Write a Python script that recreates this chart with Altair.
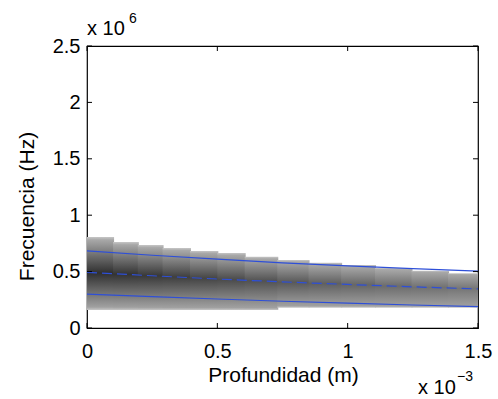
import altair as alt
import pandas as pd
import numpy as np

# ---- data (x in units of 1e-3 m, y in units of 1e6 Hz) ----
col_x0 = [0.0, 0.10, 0.195, 0.29, 0.395, 0.50, 0.605, 0.73, 0.85, 0.975, 1.105, 1.245, 1.385]
col_x1 = [0.10, 0.195, 0.29, 0.395, 0.50, 0.605, 0.73, 0.85, 0.975, 1.105, 1.245, 1.385, 1.5]
col_upper = [0.807, 0.762, 0.736, 0.709, 0.683, 0.665, 0.632, 0.603, 0.579, 0.559, 0.532, 0.508, 0.485]
col_lower = [0.16, 0.16, 0.16, 0.16, 0.16, 0.16, 0.16, 0.18, 0.18, 0.18, 0.18, 0.18, 0.18]
col_core = ["#303030", "#343434", "#393939", "#3f3f3f", "#454545", "#4b4b4b", "#525252",
            "#595959", "#606060", "#666666", "#6c6c6c", "#717171", "#767676"]

line_x = [0, 0.25, 0.5, 0.75, 1.0, 1.25, 1.5]
upper_line = [0.683, 0.645, 0.610, 0.578, 0.551, 0.527, 0.505]
mid_line = [0.494, 0.463, 0.434, 0.409, 0.386, 0.365, 0.346]
lower_line = [0.301, 0.278, 0.257, 0.237, 0.220, 0.204, 0.189]

x_ticks = [0, 0.5, 1, 1.5]
y_ticks = [0, 0.5, 1, 1.5, 2, 2.5]

W, H = 391, 282
FONT = "Liberation Sans"
xs = alt.Scale(domain=[0, 1.5], nice=False, zero=False)
ys = alt.Scale(domain=[0, 2.5], nice=False, zero=False)

XAX = alt.Axis(
    values=x_ticks, labelExpr="format(datum.value, '.1~f')", ticks=False, domain=False,
    grid=False, labelFont=FONT, labelFontSize=20, labelColor="black", labelPadding=13,
    labelFlush=False, labelOverlap=False,
    title="Profundidad (m)", titleFont=FONT, titleFontSize=21, titleFontWeight="normal",
    titleColor="black", titleX=196, titleY=53, titleBaseline="alphabetic", titleAlign="center")
YAX = alt.Axis(
    values=y_ticks, labelExpr="format(datum.value, '.1~f')", ticks=False, domain=False,
    grid=False, labelFont=FONT, labelFontSize=20, labelColor="black", labelPadding=7,
    labelFlush=False, labelOverlap=False,
    title="Frecuencia (Hz)", titleFont=FONT, titleFontSize=21, titleFontWeight="normal",
    titleColor="black", titleAngle=270, titleX=-60, titleY=160, titleAlign="center",
    titleBaseline="middle")

def X(f):
    return alt.X(f, scale=xs, axis=XAX)

def Y(f):
    return alt.Y(f, scale=ys, axis=YAX)

layers = []
xt = pd.DataFrame({"v": x_ticks})
yt = pd.DataFrame({"v": y_ticks})

# gray columns with vertical gradient
for i in range(len(col_x0)):
    top, bot = col_upper[i], col_lower[i]
    xm = (col_x0[i] + col_x1[i]) / 2
    mid = float(np.interp(xm, line_x, mid_line))
    c = (top - mid) / (top - bot)
    grad = {"gradient": "linear", "x1": 0, "y1": 0, "x2": 0, "y2": 1,
            "stops": [{"offset": 0, "color": "#c6c6c6"},
                      {"offset": 0.04, "color": "#a8a8a8"},
                      {"offset": c, "color": col_core[i]},
                      {"offset": 0.96, "color": "#a0a0a0"},
                      {"offset": 1, "color": "#c6c6c6"}]}
    df = pd.DataFrame({"x0": [col_x0[i]], "x1": [col_x1[i]], "lo": [bot], "hi": [top]})
    last = i == len(col_x0) - 1
    layers.append(alt.Chart(df).mark_rect(fill=grad, x2Offset=0 if last else 1).encode(
        x=X("x0:Q"), x2="x1:Q", y=Y("lo:Q"), y2="hi:Q"))

lines = pd.DataFrame({"x": line_x, "up": upper_line, "mid": mid_line, "lo": lower_line})
BLUE = "#2e4fd8"
for fld, dash in [("up", None), ("lo", None), ("mid", [10, 5])]:
    kw = dict(color=BLUE, strokeWidth=1.2)
    if dash:
        kw["strokeDash"] = dash
    layers.append(alt.Chart(lines).mark_line(**kw).encode(x=X("x:Q"), y=Y(f"{fld}:Q")))

# inward ticks on all four sides
layers.append(alt.Chart(xt).mark_rule(color="black", strokeWidth=1).encode(
    x=X("v:Q"), y=alt.value(H), y2=alt.value(H - 5)))
layers.append(alt.Chart(xt).mark_rule(color="black", strokeWidth=1).encode(
    x=X("v:Q"), y=alt.value(0), y2=alt.value(5)))
layers.append(alt.Chart(yt).mark_rule(color="black", strokeWidth=1).encode(
    y=Y("v:Q"), x=alt.value(0), x2=alt.value(5)))
layers.append(alt.Chart(yt).mark_rule(color="black", strokeWidth=1).encode(
    y=Y("v:Q"), x=alt.value(W), x2=alt.value(W - 5)))

# multiplier annotations
def txt(s, x, y, size):
    return alt.Chart(pd.DataFrame({"t": [s]})).mark_text(
        align="left", baseline="alphabetic", font=FONT, fontSize=size, color="black").encode(
        text="t:N", x=alt.value(x), y=alt.value(y))

layers += [txt("x 10", 0, -11, 20), txt("6", 42, -23, 14),
           txt("x 10", 331, 348, 20), txt("\u22123", 370, 335, 14)]

chart = alt.layer(*layers).properties(
    width=W, height=H,
    padding={"left": 87, "top": 46, "right": 20, "bottom": 71},
    autosize=alt.AutoSizeParams(type="none"),
    background="white",
).configure_view(stroke="black", strokeWidth=1.2)

chart.save("out.html", embed_options={"renderer": "svg", "actions": False})
